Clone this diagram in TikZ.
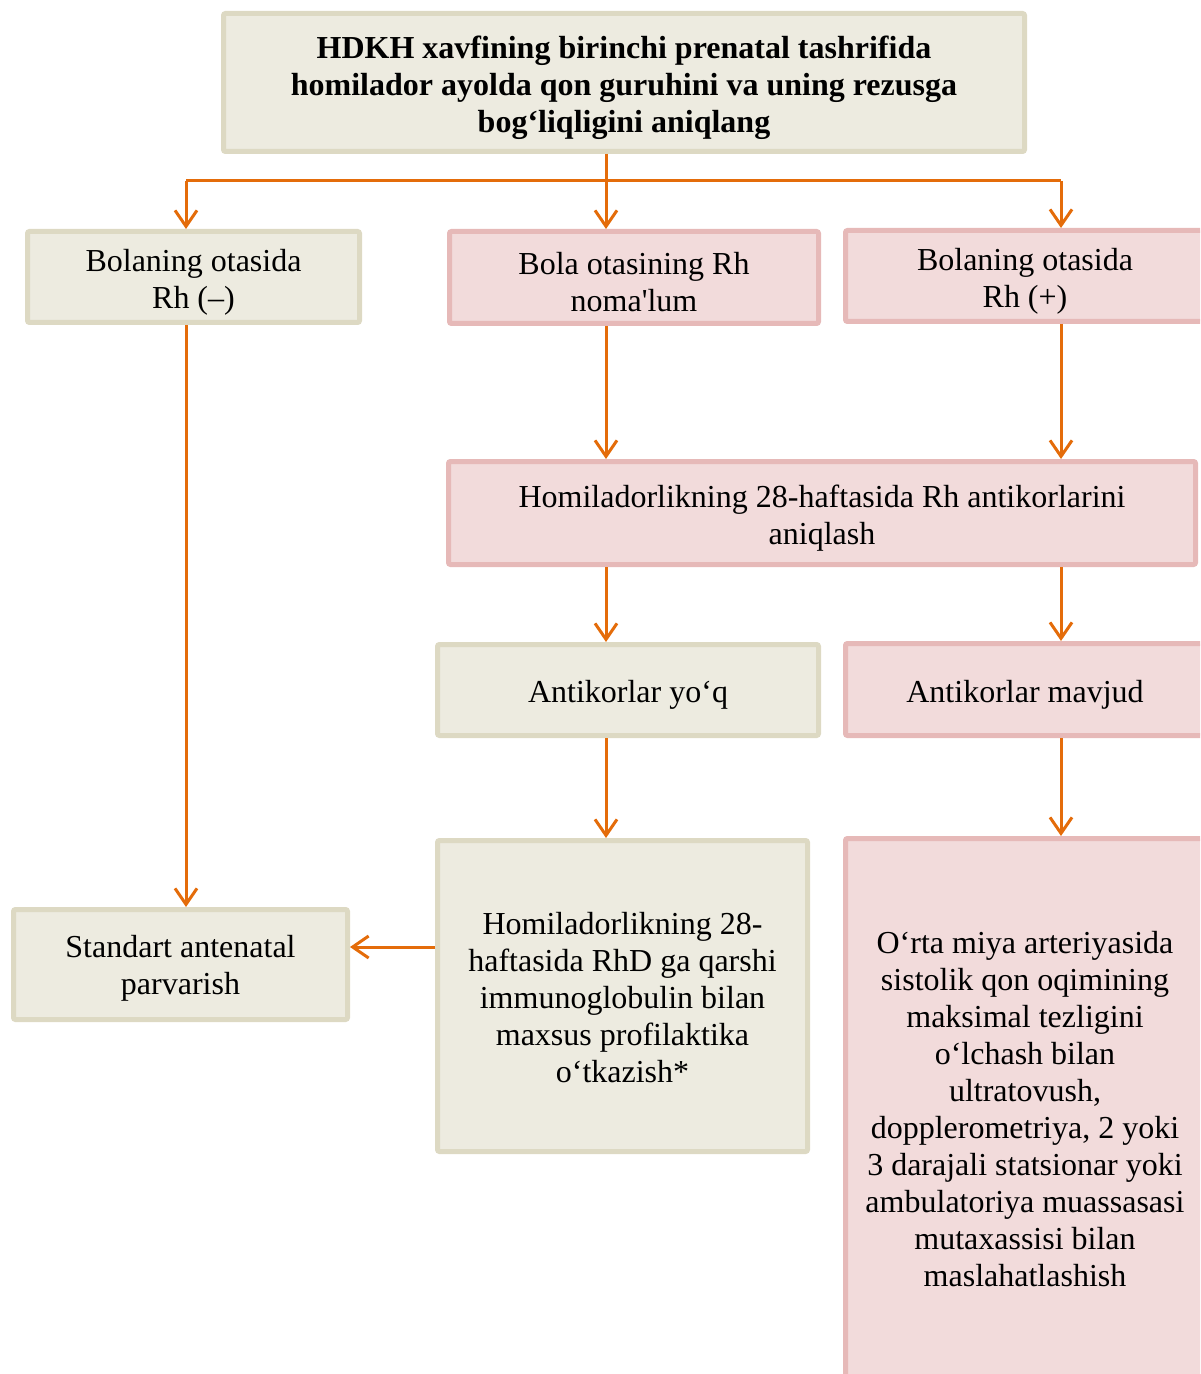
\documentclass[tikz,border=0pt]{standalone}
\usepackage{fontspec}
\setmainfont{Liberation Serif}[Ligatures=TeXOff]
\usetikzlibrary{arrows.meta}

\definecolor{beigefill}{HTML}{EDEBE0}
\definecolor{beigeline}{HTML}{DDD9C3}
\definecolor{pinkfill}{HTML}{F2DBDB}
\definecolor{pinkline}{HTML}{E6B9B8}
\definecolor{flow}{HTML}{E46C0A}

\tikzset{
  box/.style={rectangle, rounded corners=1pt, line width=2.5pt, inner sep=0pt},
  beige/.style={box, draw=beigeline, fill=beigefill},
  pink/.style={box, draw=pinkline, fill=pinkfill},
  sz/.style 2 args={minimum width=#1*0.5pt-2.5pt, minimum height=#2*0.5pt-2.5pt},
  % box text, set a little below the box centre
  txt/.style={align=center, inner sep=0pt, yshift=#1,
    font=\fontsize{16pt}{18.5pt}\selectfont},
  txt/.default=-2.5pt,
  arr/.style={draw=flow, line width=1.5pt, -{Straight Barb[length=8pt,width=11pt,line width=1.5pt]}},
  ln/.style={draw=flow, line width=1.5pt}
}

\begin{document}
\begin{tikzpicture}[x=0.5pt,y=-0.5pt]
  \useasboundingbox (0,0) rectangle (1200,1374);
  \clip (0,0) rectangle (1200,1374);

  % boxes
  \node[beige, sz={806}{143}, label={[txt]center:{\bfseries HDKH xavfining birinchi prenatal tashrifida\\
     \bfseries homilador ayolda qon guruhini va uning rezusga\\
     \bfseries bog‘liqligini aniqlang}}] (title) at (624,82.5) {};
  \node[beige, sz={337}{96}, label={[txt]center:{Bolaning otasida\\Rh (–)}}] (b1) at (193.5,277) {};
  \node[pink, sz={374}{97}, label={[txt]center:{Bola otasining Rh\\noma'lum}}] (b2) at (634,277.5) {};
  \node[pink, sz={364}{96}, label={[txt]center:{Bolaning otasida\\Rh (+)}}] (b3) at (1025,276) {};
  \node[pink, sz={752}{108}, label={[txt]center:{Homiladorlikning 28-haftasida Rh antikorlarini\\aniqlash}}] (b4) at (822,513) {};
  \node[beige, sz={386}{96}, label={[txt]center:{Antikorlar yo‘q}}] (b5) at (628,690) {};
  \node[pink, sz={364}{97}, label={[txt]center:{Antikorlar mavjud}}] (b6) at (1025,689.5) {};
  \node[beige, sz={375}{316}, label={[txt=-1pt]center:{Homiladorlikning 28-\\haftasida RhD ga qarshi\\immunoglobulin bilan\\maxsus profilaktika\\o‘tkazish*}}] (b7) at (622.5,996) {};
  \node[pink, sz={364}{544}, label={[txt=-0.5pt]center:{O‘rta miya arteriyasida\\sistolik qon oqimining\\maksimal tezligini\\o‘lchash bilan\\ultratovush,\\dopplerometriya, 2 yoki\\3 darajali statsionar yoki\\ambulatoriya muassasasi\\mutaxassisi bilan\\maslahatlashish}}] (b8) at (1025,1108) {};
  \node[beige, sz={339}{115}, label={[txt=-2pt]center:{Standart antenatal\\parvarish}}] (b9) at (180.5,964.5) {};

  % branch points
  \coordinate (jL) at (186,181);
  \coordinate (jM) at (606,181);
  \coordinate (jR) at (1061,181);
  \coordinate (ay) at (0,947);

  % connectors
  \draw[ln] (jL) -- (jR);
  \draw[arr] (title.south -| jM) -- (b2.north -| jM);
  \draw[arr] (jL) -- (b1.north -| jL);
  \draw[arr] (jR) -- (b3.north -| jR);
  \draw[arr] (b1.south -| jL) -- (b9.north -| jL);
  \draw[arr] (b2.south -| jM) -- (b4.north -| jM);
  \draw[arr] (b3.south -| jR) -- (b4.north -| jR);
  \draw[arr] (b4.south -| jM) -- (b5.north -| jM);
  \draw[arr] (b4.south -| jR) -- (b6.north -| jR);
  \draw[arr] (b5.south -| jM) -- (b7.north -| jM);
  \draw[arr] (b6.south -| jR) -- (b8.north -| jR);
  \draw[arr] (b7.west |- ay) -- (b9.east |- ay);
\end{tikzpicture}
\end{document}
